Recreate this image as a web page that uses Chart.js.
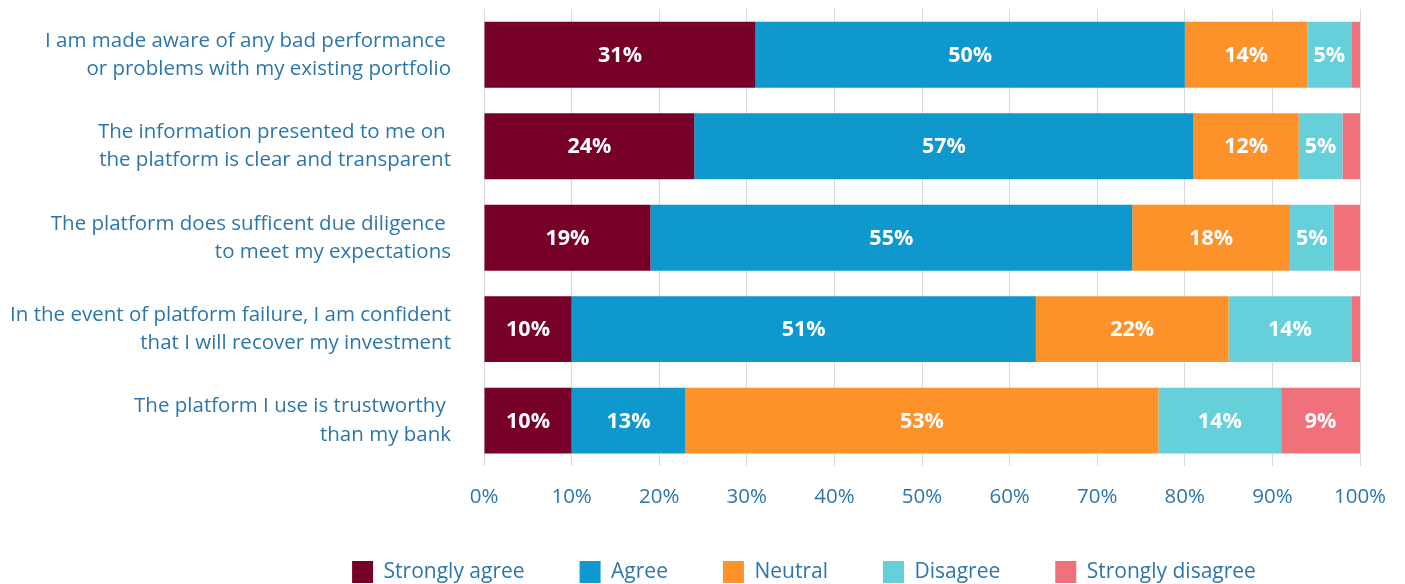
<!DOCTYPE html>
<html>
<head>
<meta charset="utf-8">
<script src="https://cdn.jsdelivr.net/npm/chart.js@4/dist/chart.umd.min.js"></script>
<style>
  html, body { margin: 0; padding: 0; background: #ffffff; }
  #wrap { width: 1405px; height: 584px; position: relative; }
</style>
</head>
<body>
<div id="wrap"><canvas id="c"></canvas></div>
<script>
// ---- Data ----
const categories = [
  ['I am made aware of any bad performance ', 'or problems with my existing portfolio'],
  ['The information presented to me on ', 'the platform is clear and transparent'],
  ['The platform does sufficent due diligence ', 'to meet my expectations'],
  ['In the event of platform failure, I am confident', 'that I will recover my investment'],
  ['The platform I use is trustworthy ', 'than my bank']
];
const seriesNames = ['Strongly agree', 'Agree', 'Neutral', 'Disagree', 'Strongly disagree'];

// bar lengths (%)
const stronglyAgree    = [31, 24, 19, 10, 10];
const agree            = [49, 57, 55, 53, 13];
const neutral          = [14, 12, 18, 22, 54];
const disagree         = [5, 5, 5, 14, 14];
const stronglyDisagree = [1, 2, 3, 1, 9];

// printed labels (as shown in the original)
const stronglyAgreeLabels    = [31, 24, 19, 10, 10];
const agreeLabels            = [50, 57, 55, 51, 13];
const neutralLabels          = [14, 12, 18, 22, 53];
const disagreeLabels         = [5, 5, 5, 14, 14];
const stronglyDisagreeLabels = [null, null, null, null, 9];

const xTickValues = [0, 10, 20, 30, 40, 50, 60, 70, 80, 90, 100];

const colors = ['#76002a', '#0e98ce', '#fd922b', '#65d0da', '#f0707b'];
const textBlue = '#2c76ab';

const seriesValues = [stronglyAgree, agree, neutral, disagree, stronglyDisagree];
const seriesLabels = [stronglyAgreeLabels, agreeLabels, neutralLabels, disagreeLabels, stronglyDisagreeLabels];

const LEGEND_PAD = 55;

const barLabelPlugin = {
  id: 'barLabels',
  afterDatasetsDraw(chart) {
    const ctx = chart.ctx;
    ctx.save();
    ctx.fillStyle = '#ffffff';
    ctx.font = 'bold 21.5px "Open Sans"';
    ctx.textAlign = 'center';
    ctx.textBaseline = 'middle';
    chart.data.datasets.forEach((ds, di) => {
      const meta = chart.getDatasetMeta(di);
      meta.data.forEach((el, i) => {
        const v = ds.shownLabels[i];
        if (v === null || v === undefined) return;
        const cx = (el.x + el.base) / 2;
        ctx.fillText(v + '%', cx, el.y + 1);
      });
    });
    ctx.restore();
  }
};

// legend: reserve less room and place it where the original places it
const legendPlacePlugin = {
  id: 'legendPlace',
  beforeLayout(chart) {
    const lg = chart.legend;
    if (lg && !lg._wrapped) {
      const orig = lg.fit;
      lg.fit = function () { orig.call(this); this.height = Math.max(this.height - 20, 0); };
      lg._wrapped = true;
    }
  },
  afterLayout(chart) {
    const lg = chart.legend;
    if (!lg) return;
    const dx = 124;
    lg.left += dx; lg.right += dx;
    lg.top = 561 - LEGEND_PAD;
    lg.bottom = chart.height + 40;
    lg.height = lg.bottom - lg.top;
  }
};

const ctx = document.getElementById('c').getContext('2d');
new Chart(ctx, {
  type: 'bar',
  data: {
    labels: categories,
    datasets: seriesNames.map((name, i) => ({
      label: name,
      data: seriesValues[i],
      shownLabels: seriesLabels[i],
      backgroundColor: colors[i],
      borderWidth: 0,
      barPercentage: 0.72,
      categoryPercentage: 1.0
    }))
  },
  options: {
    indexAxis: 'y',
    responsive: true,
    maintainAspectRatio: false,
    animation: false,
    layout: { padding: { left: 0, right: 45, top: 9, bottom: -10 } },
    scales: {
      x: {
        stacked: true,
        min: 0,
        max: 100,
        afterBuildTicks: (s) => { s.ticks = xTickValues.map(v => ({ value: v })); },
        afterFit: (s) => { s.paddingLeft = 0; s.paddingRight = 0; },
        grid: { color: '#d9d9d9', lineWidth: 1, drawTicks: false },
        border: { display: false },
        ticks: {
          padding: 18,
          color: textBlue,
          font: { family: '"Open Sans"', size: 20.5 },
          callback: (v) => v + '%'
        }
      },
      y: {
        stacked: true,
        afterFit: (s) => { s.width = 484; s.paddingTop = 0; s.paddingBottom = 0; },
        grid: { display: false, drawTicks: false },
        border: { display: false },
        ticks: {
          padding: 33,
          autoSkip: false,
          color: textBlue,
          font: { family: '"Open Sans"', size: 20.5, lineHeight: 1.37 }
        }
      }
    },
    plugins: {
      tooltip: { enabled: false },
      legend: {
        position: 'bottom',
        labels: {
          boxWidth: 21,
          boxHeight: 22,
          padding: LEGEND_PAD,
          color: textBlue,
          font: { family: '"Open Sans"', size: 21 }
        }
      }
    }
  },
  plugins: [barLabelPlugin, legendPlacePlugin]
});
</script>
</body>
</html>
